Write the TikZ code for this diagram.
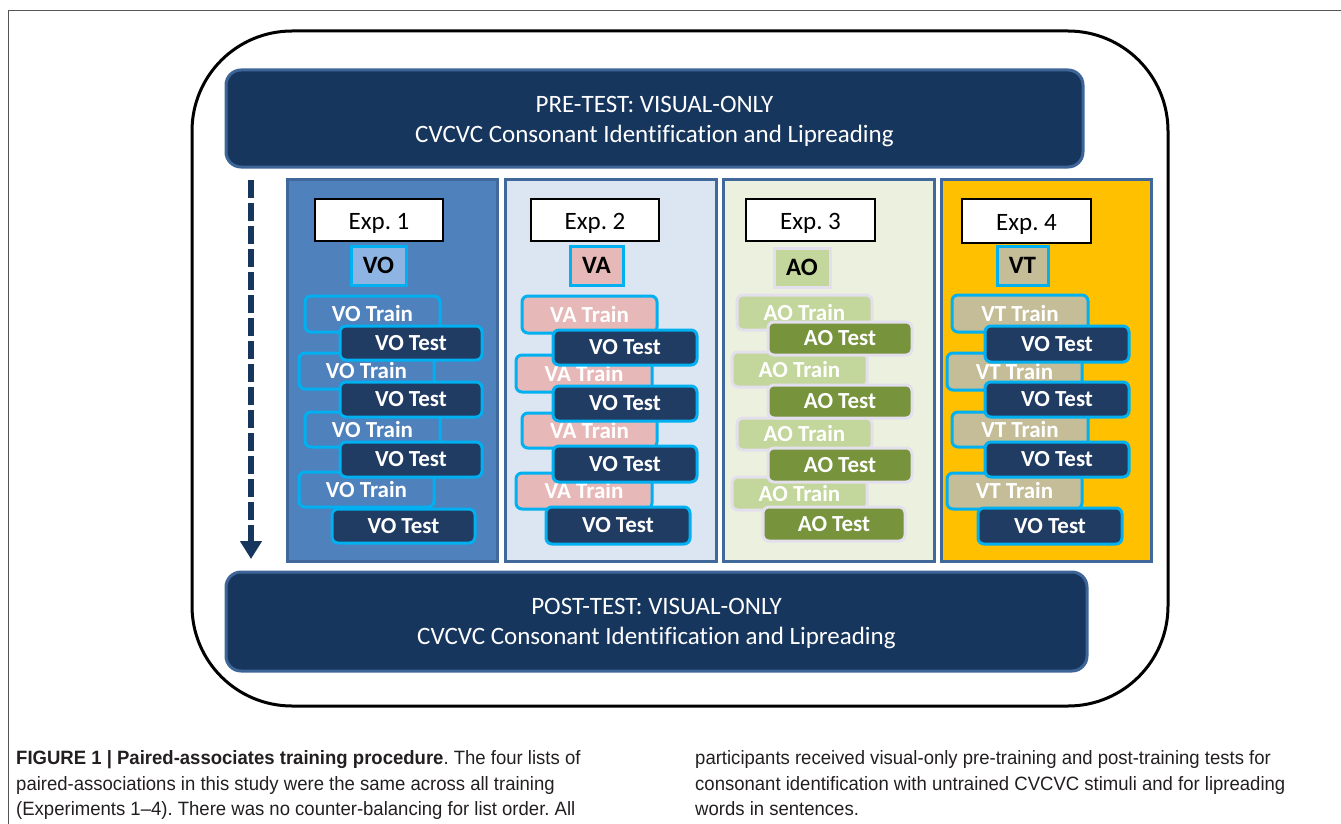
\documentclass[tikz,border=0pt]{standalone}
\usepackage{fontspec}
\setmainfont{Carlito}[Ligatures=NoCommon]
\newfontfamily\capfont[FakeStretch=0.96]{Liberation Sans}
\usetikzlibrary{arrows.meta}
\frenchspacing
\definecolor{navy}{HTML}{17365D}
\definecolor{hdrborder}{HTML}{3E6598}
\definecolor{colborder}{HTML}{41689A}
\definecolor{colA}{HTML}{4F81BD}
\definecolor{colB}{HTML}{DCE6F2}
\definecolor{colC}{HTML}{EBF1DE}
\definecolor{colD}{HTML}{FFC000}
\definecolor{cyanb}{HTML}{00B0F0}
\definecolor{testnavy}{HTML}{213C62}
\definecolor{voblue}{HTML}{8EB4E3}
\definecolor{pinkva}{HTML}{E6B9B8}
\definecolor{greenao}{HTML}{C3D69B}
\definecolor{darkgreen}{HTML}{77933C}
\definecolor{lavender}{HTML}{E4DFEC}
\definecolor{tanvt}{HTML}{C4BD97}
\definecolor{captext}{HTML}{231F20}
\definecolor{framegray}{HTML}{555555}
\newcommand\mybox[7]{%
  \pgfmathsetmacro\bxcx{(#3+#5)/2}\pgfmathsetmacro\bxcy{(#4+#6)/2}%
  \pgfmathsetmacro\bxw{#5-#3}\pgfmathsetmacro\bxh{#6-#4}%
  \node[#1,minimum width=\bxw pt,minimum height=\bxh pt] (#2) at (\bxcx,\bxcy) {#7};}
\begin{document}
\begin{tikzpicture}[x=1pt,y=-1pt,
  hdr/.style={draw=hdrborder,line width=3pt,fill=navy,rounded corners=15pt,inner sep=0pt},
  hdrtext/.style={text=white,font=\fontsize{25}{29.5}\selectfont,align=center,inner sep=0pt},
  colbox/.style={draw=colborder,line width=3pt,inner sep=0pt},
  explab/.style={draw=black,line width=1.5pt,fill=white,inner sep=0pt},
  explabtext/.style={inner sep=0pt,font=\fontsize{25}{30}\selectfont},
  tagbox/.style={line width=3pt,inner sep=0pt,font=\bfseries\fontsize{25}{30}\selectfont,text=black},
  pairbox/.style={line width=3pt,rounded corners=6pt,inner sep=0pt,text=white,font=\bfseries\fontsize{23}{27}\selectfont},
  trainA/.style={pairbox,draw=cyanb,fill=colA},
  trainB/.style={pairbox,draw=cyanb,fill=pinkva},
  trainC/.style={pairbox,draw=lavender,fill=greenao},
  trainD/.style={pairbox,draw=cyanb,fill=tanvt},
  testV/.style={pairbox,draw=cyanb,fill=testnavy},
  testA/.style={pairbox,draw=lavender,fill=darkgreen},
  capline/.style={anchor=base west,inner sep=0pt,text=captext,font=\capfont\fontsize{19.3}{23}\selectfont}]
\useasboundingbox (0,0) rectangle (1341,824);
% page frame
\draw[framegray,line width=1pt] (8,824) -- (8,11) -- (1341,11);
% outer rounded frame
\draw[black,line width=3pt,rounded corners=100pt] (192,31) rectangle (1168,706);
% pre and post tests
\mybox{hdr}{pre}{226}{70}{1083}{167}{}
\node[hdrtext] (pretext) at ([yshift=-3pt]pre.center) {PRE-TEST: VISUAL-ONLY\\CVCVC Consonant Identification and Lipreading};
\mybox{hdr}{post}{226}{572}{1087}{671}{}
\node[hdrtext] (posttext) at ([yshift=-2pt]post.center) {POST-TEST: VISUAL-ONLY\\CVCVC Consonant Identification and Lipreading};
% columns
\mybox{colbox,fill=colA}{c1}{287}{179}{497}{561}{}
\mybox{colbox,fill=colB}{c2}{505}{179}{716}{561}{}
\mybox{colbox,fill=colC}{c3}{723}{179}{934}{561}{}
\mybox{colbox,fill=colD}{c4}{941}{179}{1151}{561}{}
% time arrow
\coordinate (arrS) at (251,180);
\coordinate (arrE) at (251,559);
\draw[navy,line width=5.5pt,dash pattern=on 18pt off 5pt,-{Triangle[width=21pt,length=18pt]}] (arrS) -- (arrE);
% experiment labels
\mybox{explab}{e1}{315}{199}{443}{241}{}
\mybox{explab}{e2}{531}{199}{659}{241}{}
\mybox{explab}{e3}{746}{199}{875}{241}{}
\mybox{explab}{e4}{962}{199}{1091}{243}{}
\node[explabtext] (e1t) at ([yshift=-3pt]e1.center) {Exp. 1};
\node[explabtext] (e2t) at ([yshift=-3pt]e2.center) {Exp. 2};
\node[explabtext] (e3t) at ([yshift=-3pt]e3.center) {Exp. 3};
\node[explabtext] (e4t) at ([yshift=-3pt]e4.center) {Exp. 4};
% condition tags
\mybox{tagbox,draw=cyanb,fill=voblue}{t1}{351}{246}{406}{285}{VO}
\mybox{tagbox,draw=cyanb,fill=pinkva}{t2}{570}{246}{623}{285}{VA}
\mybox{tagbox,draw=lavender,fill=greenao}{t3}{774}{248}{830}{287}{AO}
\mybox{tagbox,draw=cyanb,fill=tanvt}{t4}{997}{246}{1048}{285}{VT}
% Exp 1
\mybox{trainA}{a1}{305}{296}{440}{332}{VO Train}
\mybox{trainA}{a2}{299}{353}{434}{389}{VO Train}
\mybox{trainA}{a3}{305}{412}{440}{447}{VO Train}
\mybox{trainA}{a4}{299}{472}{434}{507}{VO Train}
\mybox{testV}{ta1}{340}{326}{482}{360}{VO Test}
\mybox{testV}{ta2}{340}{382}{482}{417}{VO Test}
\mybox{testV}{ta3}{340}{442}{482}{477}{VO Test}
\mybox{testV}{ta4}{332}{509}{475}{543}{VO Test}
% Exp 2
\mybox{trainB}{b1}{522}{296}{657}{333}{VA Train}
\mybox{trainB}{b2}{516}{355}{652}{392}{VA Train}
\mybox{trainB}{b3}{522}{413}{657}{448}{VA Train}
\mybox{trainB}{b4}{516}{473}{652}{509}{VA Train}
\mybox{testV}{tb1}{553}{330}{697}{365}{VO Test}
\mybox{testV}{tb2}{553}{386}{697}{421}{VO Test}
\mybox{testV}{tb3}{553}{446}{697}{482}{VO Test}
\mybox{testV}{tb4}{546}{507}{690}{544}{VO Test}
% Exp 3
\mybox{trainC}{c1r}{737}{295}{872}{330}{AO Train}
\mybox{trainC}{c2r}{732}{352}{867}{387}{AO Train}
\mybox{trainC}{c3r}{737}{418}{872}{450}{AO Train}
\mybox{trainC}{c4r}{732}{477}{867}{510}{AO Train}
\mybox{testA}{tc1}{768}{322}{912}{355}{AO Test}
\mybox{testA}{tc2}{768}{385}{912}{418}{AO Test}
\mybox{testA}{tc3}{768}{448}{912}{482}{AO Test}
\mybox{testA}{tc4}{763}{507}{905}{541}{AO Test}
% Exp 4
\mybox{trainD}{d1}{952}{295}{1088}{332}{VT Train}
\mybox{trainD}{d2}{947}{353}{1082}{390}{VT Train}
\mybox{trainD}{d3}{952}{412}{1088}{447}{VT Train}
\mybox{trainD}{d4}{947}{473}{1082}{509}{VT Train}
\mybox{testV}{td1}{985}{326}{1129}{362}{VO Test}
\mybox{testV}{td2}{985}{382}{1129}{417}{VO Test}
\mybox{testV}{td3}{985}{442}{1129}{477}{VO Test}
\mybox{testV}{td4}{978}{508}{1122}{544}{VO Test}
% caption
\node[capline] (cl1) at (16,764) {\textbf{FIGURE 1 | Paired-associates training procedure}. The four lists of};
\node[capline] (cl2) at (16,790) {paired-associations in this study were the same across all training};
\node[capline] (cl3) at (16,815) {(Experiments 1–4). There was no counter-balancing for list order. All};
\node[capline] (cr1) at (695,764) {participants received visual-only pre-training and post-training tests for};
\node[capline] (cr2) at (695,790) {consonant identification with untrained CVCVC stimuli and for lipreading};
\node[capline] (cr3) at (695,815) {words in sentences.};
\end{tikzpicture}
\end{document}
